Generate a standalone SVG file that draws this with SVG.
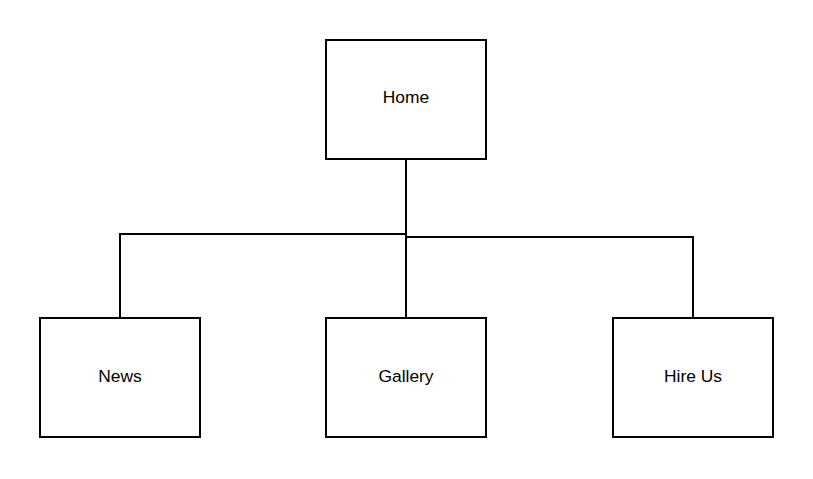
<svg xmlns="http://www.w3.org/2000/svg" width="813" height="479" viewBox="0 0 813 479">
<style>
.box{fill:#fff;stroke:#000;stroke-width:2}
.lbl{font-family:"Liberation Sans",Arial,sans-serif;font-size:17.4px;fill:#000;text-anchor:middle;dominant-baseline:central}
.edge{fill:none;stroke:#000;stroke-width:2}
</style>
<rect width="813" height="479" fill="#fff"/>
<g id="connectors">
<path class="edge" d="M406 160 V318"/>
<path class="edge" d="M406 234 H120 V318"/>
<path class="edge" d="M406 237 H693 V318"/>
</g>
<g id="home"><rect class="box" x="326" y="40" width="160" height="119"/><text class="lbl" x="406" y="97">Home</text></g>
<g id="news"><rect class="box" x="40" y="318" width="160" height="119"/><text class="lbl" x="120" y="376">News</text></g>
<g id="gallery"><rect class="box" x="326" y="318" width="160" height="119"/><text class="lbl" x="406" y="376">Gallery</text></g>
<g id="hire-us"><rect class="box" x="613" y="318" width="160" height="119"/><text class="lbl" x="693" y="376">Hire Us</text></g>
</svg>
